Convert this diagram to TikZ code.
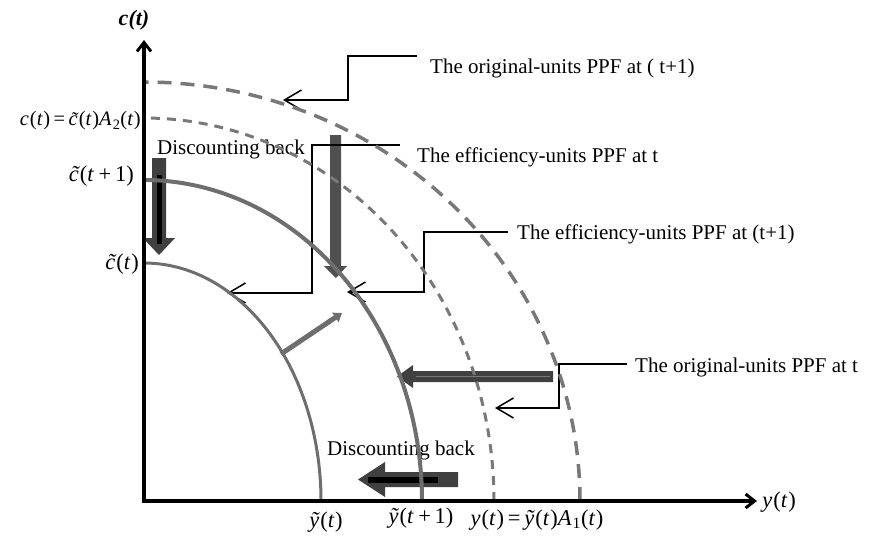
\documentclass[tikz,border=0pt]{standalone}
\usepackage{fontspec}
\setmainfont{Liberation Serif}
\usetikzlibrary{arrows.meta}
\definecolor{gray30}{RGB}{64,64,64}
\definecolor{gray40}{RGB}{80,80,80}
\definecolor{gray60}{RGB}{110,110,110}
\definecolor{gray65}{RGB}{120,120,120}
\newcommand{\vi}[1]{{\itshape #1}\kern0.05em}
\newcommand{\ct}{{\itshape\~{c}}\kern0.05em}
\tikzset{
  lbl/.style={font=\fontsize{21}{24}\selectfont, inner sep=0pt, anchor=base west},
  mlbl/.style={font=\fontsize{22.5}{24}\selectfont, inner sep=0pt},
  leader/.style={line width=1.5pt, -{Straight Barb[length=17pt,width=20pt,line width=1.5pt]}},
  axis/.style={line width=4pt, -{Straight Barb[length=9pt,width=14pt,line width=3pt]}},
  ppfA/.style={line width=3pt, draw=gray60},
  ppfB/.style={line width=4pt, draw=gray60},
  ppfC/.style={line width=3pt, draw=gray65, dash pattern=on 9pt off 7pt},
  ppfD/.style={line width=3.5pt, draw=gray65, dash pattern=on 14pt off 9pt},
  blockdark/.style={fill=gray30},
  blockmid/.style={fill=gray40},
}
\begin{document}
\begin{tikzpicture}[x=1pt,y=-1pt]
\useasboundingbox (0,0) rectangle (879,539);

% texts
\node[lbl] (t1) at (430,73) {The original-units PPF at ( t+1)};
\node[lbl] (t2) at (417,162) {The efficiency-units PPF at t};
\node[lbl] (t3) at (517,239) {The efficiency-units PPF at (t+1)};
\node[lbl] (t4) at (635,372) {The original-units PPF at t};
\node[lbl] (d1) at (157,154) {Discounting back};
\node[lbl] (d2) at (327,455) {Discounting back};

\node[mlbl, font=\fontsize{22}{24}\selectfont\bfseries\itshape] (cax) at (134,20) {c(t)};
\node[mlbl, anchor=east, font=\fontsize{20.5}{24}\selectfont] (cdef) at (141,121) {\vi{c}(\vi{t})\,=\,\ct(\vi{t})\vi{A}\textsubscript{2}(\vi{t})};
\node[mlbl, anchor=east] (ct1) at (134,176) {\ct(\vi{t}\,+\,1)};
\node[mlbl, anchor=east] (ct) at (139,264) {\ct(\vi{t})};
\node[mlbl] (yax) at (779,502) {\vi{y}(\vi{t})};
\node[mlbl] (yt) at (326,522) {\vi{ỹ}(\vi{t})};
\node[mlbl] (yt1) at (421,518) {\vi{ỹ}(\vi{t}\,+\,1)};
\node[mlbl] (ydef) at (537,520) {\vi{y}(\vi{t})\,=\,\vi{ỹ}(\vi{t})\vi{A}\textsubscript{1}(\vi{t})};

% block arrows
\fill[blockdark] (152,158) -- (166,158) -- (166,238) -- (175,238) -- (159,255) -- (143,238) -- (152,238) -- cycle;
\draw[line width=5pt, black] (159,175) -- (159,244);
\fill[blockmid] (330,135) -- (341,135) -- (341,266) -- (347,266) -- (336,278) -- (324,266) -- (330,266) -- cycle;
\fill[blockdark] (553,371) -- (413,371) -- (413,365) -- (397,376.5) -- (413,388) -- (413,382) -- (553,382) -- cycle;
\draw[line width=1pt, gray65] (550,376.5) -- (416,376.5);
\fill[blockdark] (458,472) -- (385,472) -- (385,462) -- (358,479.5) -- (385,497) -- (385,487) -- (458,487) -- cycle;
\draw[line width=6pt, black] (438,479.5) -- (368,479.5);
\coordinate (dgA) at (281,354);
\coordinate (dgB) at (342,313);
\draw[line width=5pt, gray60, -{Triangle[length=8pt,width=11pt]}] (dgA) -- (dgB);

% leaders
\coordinate (l1a) at (417,56); \coordinate (l1t) at (283,100);
\coordinate (l2a) at (400,145); \coordinate (l2t) at (227,293);
\coordinate (l3a) at (508,232); \coordinate (l3t) at (347,292);
\coordinate (l4a) at (627,364); \coordinate (l4t) at (495,408);
\draw[leader] (l1a) -- (348,56) -- (348,100) -- (l1t);
\draw[leader] (l2a) -- (312,145) -- (312,293) -- (l2t);
\draw[leader] (l3a) -- (424,232) -- (424,292) -- (l3t);
\draw[leader] (l4a) -- (559,364) -- (559,408) -- (l4t);

% PPF curves
\draw[ppfA] plot[domain=0:90,samples=90] ({144+177*cos(\x)},{501-238*sin(\x)});
\draw[ppfB] plot[domain=0:90,samples=90] ({144+278*cos(\x)},{501-321*sin(\x)});
\draw[ppfC] plot[domain=0:90,samples=90] ({144+350*cos(\x)},{501-383*sin(\x)});
\draw[ppfD] plot[domain=0:90,samples=90] ({144+436*cos(\x)},{501-419*sin(\x)});

% axes
\coordinate (O) at (144,501);
\coordinate (ytop) at (144,40);
\coordinate (xend) at (757,501);
\draw[axis] (144,503) -- (ytop);
\draw[axis] (142,501) -- (xend);
\end{tikzpicture}
\end{document}
